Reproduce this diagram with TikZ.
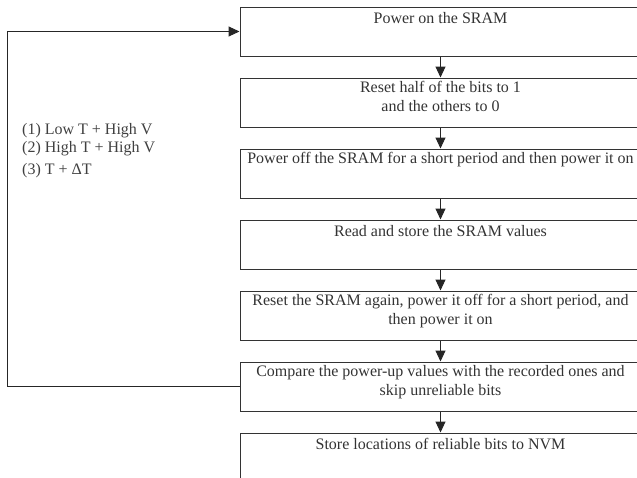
\documentclass[tikz,border=0pt]{standalone}
\usepackage{fontspec}
\setmainfont{Liberation Serif}
\usetikzlibrary{arrows.meta, positioning}

\tikzset{
  stepbox/.style={draw=black!80, line width=1pt, minimum width=401pt, minimum height=49pt, inner sep=0pt},
  steptext/.style={anchor=north, align=center, inner sep=0pt, text=black!80, font=\fontsize{16}{19}\selectfont},
  cond/.style={anchor=west, inner sep=0pt, text=black!75, font=\fontsize{16}{19}\selectfont},
  flow/.style={->, draw=black!85, line width=1pt}
}

\begin{document}
\begin{tikzpicture}[x=1pt, y=-1pt, >={Triangle[length=11pt, width=10pt]}, node distance=21pt]
\useasboundingbox (0,0) rectangle (637,477);

% steps
\node[stepbox] (b1) at (440.5, 31.5) {};
\node[stepbox, below=of b1] (b2) {};
\node[stepbox, below=of b2] (b3) {};
\node[stepbox, below=of b3] (b4) {};
\node[stepbox, below=of b4] (b5) {};
\node[stepbox, below=of b5] (b6) {};
\node[stepbox, below=of b6] (b7) {};

\node[steptext] (t1) at ([yshift=-6pt]b1.north) {Power on the SRAM};
\node[steptext] (t2) at ([yshift=-4pt]b2.north) {Reset half of the bits to 1\\and the others to 0};
\node[steptext] (t3) at ([yshift=-4pt]b3.north) {Power off the SRAM for a short period and then power it on};
\node[steptext] (t4) at ([yshift=-6pt]b4.north) {Read and store the SRAM values};
\node[steptext] (t5) at ([yshift=-4pt]b5.north) {Reset the SRAM again, power it off for a short period, and\\then power it on};
\node[steptext] (t6) at ([yshift=-4pt]b6.north) {Compare the power-up values with the recorded ones and\\skip unreliable bits};
\node[steptext] (t7) at ([yshift=-6pt]b7.north) {Store locations of reliable bits to NVM};

\foreach \a/\b in {b1/b2, b2/b3, b3/b4, b4/b5, b5/b6, b6/b7}
  \draw[flow] (\a) -- (\b);

% loop back
\draw[flow] (b6.west) -- ++(-232.5, 0) |- (b1.west);

\node[cond] (c1) at (22, 131) {(1) Low T + High V};
\node[cond] (c2) at (22, 149) {(2) High T + High V};
\node[cond] (c3) at (22, 171) {(3) T + ΔT};

\end{tikzpicture}
\end{document}
